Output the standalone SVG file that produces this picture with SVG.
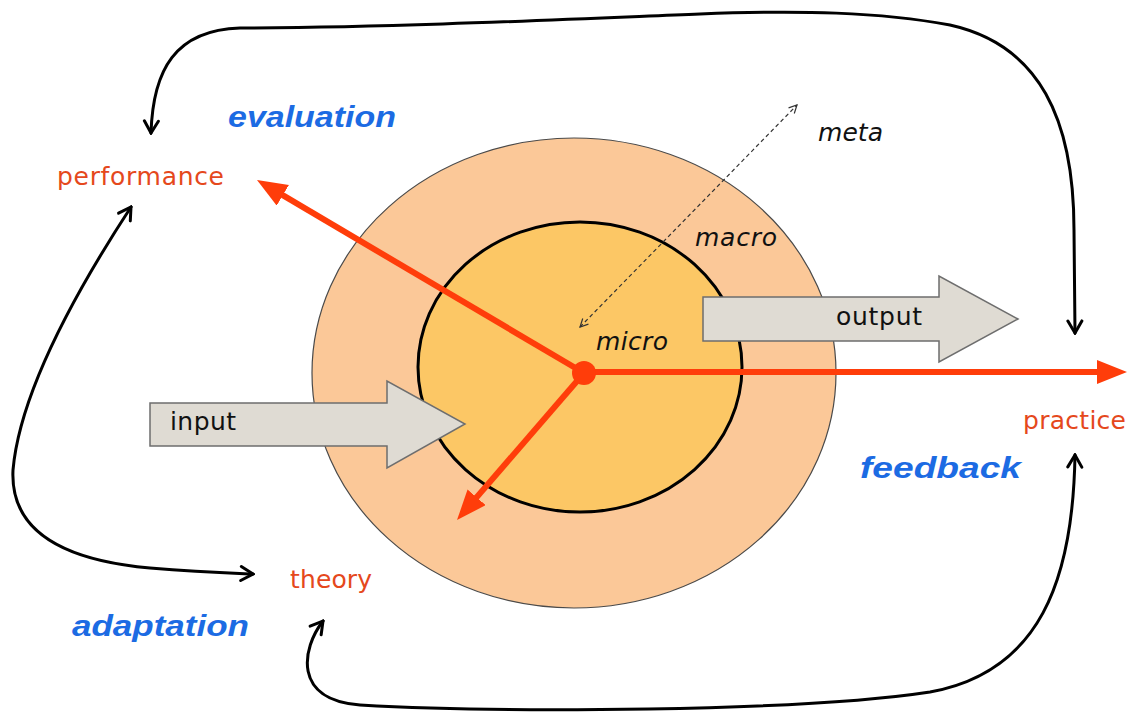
<svg xmlns="http://www.w3.org/2000/svg" width="1131" height="713" viewBox="0 0 1131 713">
  <style>
    .lbl { font-family: "DejaVu Sans", "Liberation Sans", sans-serif; font-size: 25px; fill: #E5481C; }
    .phase { font-family: "Liberation Sans", "DejaVu Sans", sans-serif; font-size: 30px; font-weight: bold; font-style: italic; fill: #1C6BE3; }
    .blk { font-family: "DejaVu Sans", "Liberation Sans", sans-serif; font-size: 25px; fill: #111; }
    .it { font-style: italic; }
    .loop { fill: none; stroke: #000; stroke-width: 3; stroke-linecap: round; }
    .red { fill: none; stroke: #FF3D0A; stroke-width: 6; }
    .gray { fill: #DFDBD3; stroke: #6E6E6E; stroke-width: 1.5; }
  </style>
  <defs>
    <marker id="vhead" markerUnits="userSpaceOnUse" markerWidth="16" markerHeight="18" viewBox="-2 -2 16 18" refX="12" refY="7" orient="auto-start-reverse">
      <path d="M0,0 L12,7 L0,14" fill="none" stroke="#000" stroke-width="3" stroke-linecap="round" stroke-linejoin="miter"/>
    </marker>
    <marker id="dhead" markerUnits="userSpaceOnUse" markerWidth="10" markerHeight="10" viewBox="-1 -1 10 10" refX="8" refY="4" orient="auto-start-reverse">
      <path d="M0,0 L8,4 L0,8" fill="none" stroke="#333" stroke-width="1.2"/>
    </marker>
    <marker id="rhead" markerUnits="userSpaceOnUse" markerWidth="32" markerHeight="26" viewBox="0 0 32 26" refX="10" refY="12" orient="auto">
      <path d="M0,0 L30,12 L0,24 z" fill="#FF3D0A"/>
    </marker>
  </defs>

  <rect width="1131" height="713" fill="#fff"/>

  <g id="macro-ring">
    <ellipse cx="574" cy="373" rx="262" ry="235" fill="#FBC898" stroke="#4a4a4a" stroke-width="1.2"/>
    <text class="blk it" x="695" y="246" textLength="82">macro</text>
  </g>
  <g id="micro-core">
    <ellipse cx="580" cy="367" rx="162" ry="145" fill="#FCC765" stroke="#000" stroke-width="3"/>
    <text class="blk it" x="596" y="350" textLength="72">micro</text>
  </g>
  <g id="meta">
    <text class="blk it" x="818" y="141" textLength="65">meta</text>
  </g>

  <g id="output">
    <path class="gray" d="M703,297 L939,297 L939,276 L1018,319 L939,362 L939,341 L703,341 Z"/>
    <text class="blk" x="836" y="325" textLength="86">output</text>
  </g>
  <g id="input">
    <path class="gray" d="M150,403 L387,403 L387,381 L465,424 L387,468 L387,446 L150,446 Z"/>
    <text class="blk" x="170" y="430" textLength="66">input</text>
  </g>

  <g id="connectors">
    <line x1="580" y1="327" x2="797" y2="105" stroke="#333" stroke-width="1.2" stroke-dasharray="4,3" marker-start="url(#dhead)" marker-end="url(#dhead)"/>
    <line class="red" x1="584" y1="373" x2="274.2" y2="190.2" marker-end="url(#rhead)"/>
    <line class="red" x1="584" y1="373" x2="470.1" y2="504.9" marker-end="url(#rhead)"/>
    <line class="red" x1="584" y1="372" x2="1107" y2="372" marker-end="url(#rhead)"/>
    <circle cx="584" cy="373" r="12" fill="#FF3D0A"/>
    <path class="loop" d="M151,133 C153,70 175,30 240,28 C400,27 550,20 700,14 C800,10 880,12 950,25 C1040,45 1074,120 1074,230 L1075,333" marker-start="url(#vhead)" marker-end="url(#vhead)"/>
    <path class="loop" d="M131,207 C80,285 20,390 13,470 C10,530 60,560 150,568 C200,572 230,573 253,574" marker-start="url(#vhead)" marker-end="url(#vhead)"/>
    <path class="loop" d="M323,621 C302,648 292,700 360,705 C500,713 800,712 930,692 C1040,672 1073,580 1075,455" marker-start="url(#vhead)" marker-end="url(#vhead)"/>
  </g>

  <g id="performance"><text class="lbl" x="57" y="185" textLength="167">performance</text></g>
  <g id="theory"><text class="lbl" x="290" y="588" textLength="82">theory</text></g>
  <g id="practice"><text class="lbl" x="1023" y="429" textLength="103">practice</text></g>

  <g id="evaluation"><text class="phase" x="228" y="127" textLength="168" lengthAdjust="spacingAndGlyphs">evaluation</text></g>
  <g id="feedback"><text class="phase" x="860" y="478" textLength="161" lengthAdjust="spacingAndGlyphs">feedback</text></g>
  <g id="adaptation"><text class="phase" x="72" y="636" textLength="177" lengthAdjust="spacingAndGlyphs">adaptation</text></g>
</svg>
